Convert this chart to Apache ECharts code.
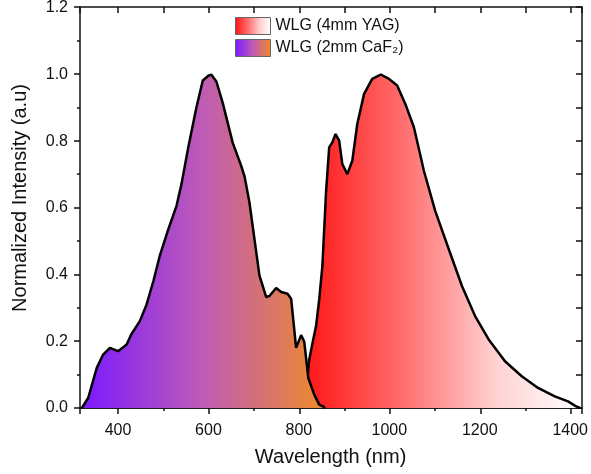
<!DOCTYPE html>
<html>
<head>
<meta charset="utf-8">
<script src="https://cdn.jsdelivr.net/npm/echarts@6/dist/echarts.min.js"></script>
<style>
html,body{margin:0;padding:0;background:#fff;}
#chart{width:591px;height:474px;}
</style>
</head>
<body>
<div id="chart"></div>
<script>
// Wavelength (nm) and normalized intensity for WLG in 2mm CaF2
var caf2X = [320, 334, 353, 367, 382, 400, 419, 429, 448, 463, 478, 492, 511, 529, 540, 555, 573, 587, 600, 606, 617, 631, 653, 672, 679, 690, 712, 727, 734, 749, 760, 774, 782, 793, 804, 811, 820, 833, 844, 852, 857];
var caf2Y = [0, 0.03, 0.12, 0.16, 0.18, 0.17, 0.19, 0.22, 0.26, 0.31, 0.38, 0.455, 0.535, 0.605, 0.67, 0.78, 0.90, 0.98, 0.995, 0.997, 0.977, 0.913, 0.794, 0.724, 0.694, 0.615, 0.397, 0.332, 0.335, 0.359, 0.347, 0.342, 0.327, 0.18, 0.218, 0.198, 0.089, 0.04, 0.01, 0.005, 0];
// Wavelength (nm) and normalized intensity for WLG in 4mm YAG
var yagX = [805, 815, 822, 830, 837, 844, 851, 859, 866, 873, 880, 888, 895, 906, 917, 928, 943, 961, 980, 998, 1016, 1034, 1053, 1075, 1100, 1130, 1159, 1188, 1218, 1254, 1291, 1327, 1364, 1393, 1411, 1420];
var yagY = [0, 0.05, 0.145, 0.2, 0.245, 0.325, 0.425, 0.645, 0.78, 0.795, 0.82, 0.80, 0.73, 0.70, 0.74, 0.85, 0.94, 0.985, 0.998, 0.985, 0.965, 0.91, 0.84, 0.71, 0.59, 0.475, 0.365, 0.275, 0.205, 0.14, 0.095, 0.06, 0.035, 0.02, 0.005, 0];
var seriesNames = ['WLG (4mm YAG)', 'WLG (2mm CaF\u2082)'];
var xRange = [316, 1424];
var yRange = [0, 1.2];

function pairs(xs, ys){ return xs.map(function(x,i){ return [x, ys[i]]; }); }
var FONT = '"Liberation Sans", Arial, sans-serif';
function grad(stops){ return new echarts.graphic.LinearGradient(0,0,1,0, stops.map(function(s){return {offset:s[0], color:s[1]};})); }
var yagStops = [[0,'#ff1212'],[0.35,'#ff6a6a'],[0.7,'#ffd2d2'],[1,'#ffffff']];
var cafStops = [[0,'#7a1aff'],[0.5,'#bf5cb5'],[1,'#f08a2a']];
function ls(){ return {color:'#111', width:1.5}; }

var chart = echarts.init(document.getElementById('chart'));
chart.setOption({
  animation:false,
  backgroundColor:'#fff',
  grid:[
    {left:80, top:7, width:502, height:401},
    {left:80, top:7, width:502, height:401}
  ],
  legend:{
    orient:'vertical', left:235, top:17, padding:0, itemWidth:35, itemHeight:17, itemGap:4,
    icon:'rect',
    data:[
      {name:seriesNames[0], itemStyle:{color:grad(yagStops), borderColor:'#666', borderWidth:1}},
      {name:seriesNames[1], itemStyle:{color:grad(cafStops), borderColor:'#666', borderWidth:1}}
    ],
    textStyle:{fontFamily:FONT, fontSize:16, lineHeight:17, color:'#111'}
  },
  xAxis:[
    {type:'value', gridIndex:0, position:'bottom', min:xRange[0], max:xRange[1], splitNumber:5,
     axisLine:{show:true, lineStyle:ls()},
     axisTick:{show:true, length:6, lineStyle:ls()},
     axisLabel:{show:false}, splitLine:{show:false}},
    {type:'value', gridIndex:0, position:'bottom', min:xRange[0], max:xRange[1], splitNumber:11,
     axisLine:{show:true, lineStyle:ls()},
     axisTick:{show:true, length:3, lineStyle:ls()},
     axisLabel:{show:false}, splitLine:{show:false}},
    {type:'value', gridIndex:0, position:'top', min:xRange[0], max:xRange[1], splitNumber:11,
     axisLine:{show:true, lineStyle:ls()},
     axisTick:{show:true, inside:true, length:6, lineStyle:ls()},
     axisLabel:{show:false}, splitLine:{show:false}},
    {type:'value', gridIndex:1, position:'bottom', min:xRange[0], max:xRange[1], splitNumber:5,
     name:'Wavelength (nm)', nameLocation:'middle', nameGap:39,
     nameTextStyle:{fontFamily:FONT, fontSize:20, color:'#111'},
     axisLine:{show:false}, axisTick:{show:false},
     axisLabel:{show:true, showMinLabel:false, showMaxLabel:false, margin:15, fontFamily:FONT, fontSize:16, color:'#111', formatter:function(v){return String(v);}},
     splitLine:{show:false}}
  ],
  yAxis:[
    {type:'value', gridIndex:0, position:'left', min:yRange[0], max:yRange[1], interval:0.2,
     axisLine:{show:true, lineStyle:ls()},
     axisTick:{show:true, length:6, lineStyle:ls()},
     minorTick:{show:true, splitNumber:2, length:3, lineStyle:ls()},
     axisLabel:{show:false}, splitLine:{show:false}},
    {type:'value', gridIndex:0, position:'right', min:yRange[0], max:yRange[1], interval:0.1,
     axisLine:{show:true, lineStyle:ls()},
     axisTick:{show:true, inside:true, length:6, lineStyle:ls()},
     axisLabel:{show:false}, splitLine:{show:false}},
    {type:'value', gridIndex:1, position:'left', min:yRange[0], max:yRange[1], interval:0.2,
     name:'Normalized Intensity (a.u)', nameLocation:'middle', nameGap:50,
     nameTextStyle:{fontFamily:FONT, fontSize:20, color:'#111', padding:[0,0,0,20]},
     axisLine:{show:false}, axisTick:{show:false},
     axisLabel:{show:true, margin:12, fontFamily:FONT, fontSize:16, color:'#111', formatter:function(v){return v.toFixed(1);}},
     splitLine:{show:false}}
  ],
  series:[
    {name:seriesNames[0], type:'line', data:pairs(yagX, yagY), showSymbol:false, symbol:'none',
     xAxisIndex:0, yAxisIndex:0, z:2,
     lineStyle:{color:'#000', width:2.5}, itemStyle:{color:'#ff4040'},
     areaStyle:{color:grad(yagStops), opacity:1, origin:'start'}},
    {name:seriesNames[1], type:'line', data:pairs(caf2X, caf2Y), showSymbol:false, symbol:'none',
     xAxisIndex:0, yAxisIndex:0, z:3,
     lineStyle:{color:'#000', width:2.5}, itemStyle:{color:'#b05cc0'},
     areaStyle:{color:grad(cafStops), opacity:1, origin:'start'}},
    {name:'labels', type:'line', data:[], xAxisIndex:3, yAxisIndex:2, silent:true, showSymbol:false}
  ]
});
</script>
</body>
</html>
